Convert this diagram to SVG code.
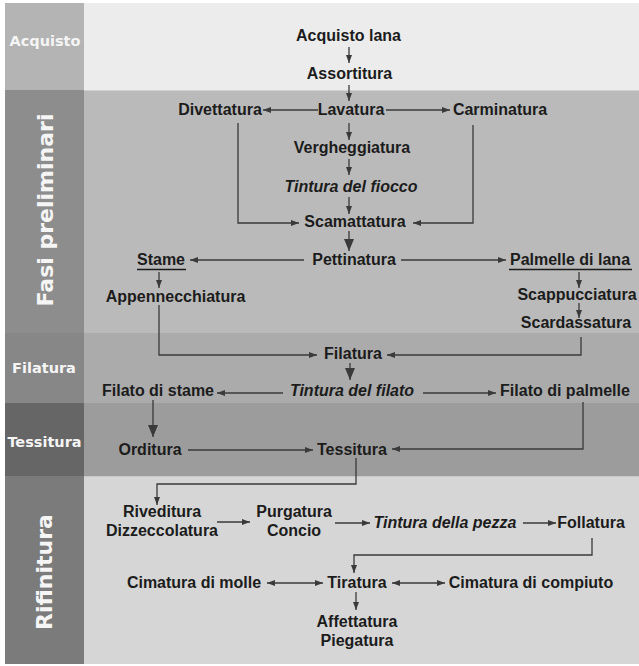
<svg xmlns="http://www.w3.org/2000/svg" width="639" height="666" viewBox="0 0 639 666">
<style>
.t{font-family:"Liberation Sans",Arial,sans-serif;font-size:16px;font-weight:bold;fill:#1c1c1c;text-anchor:middle}
.i{font-style:italic}
.lb{font-family:"DejaVu Sans",sans-serif;font-weight:bold;fill:#f5f5f5;text-anchor:middle}
.c{fill:none;stroke:#3a3a3a;stroke-width:1.3}
.u{stroke:#1c1c1c;stroke-width:1.6}
</style>
<defs>
<marker id="a" markerWidth="8" markerHeight="6" refX="8" refY="3" orient="auto-start-reverse" markerUnits="userSpaceOnUse"><path d="M0,0L8,3L0,6z" fill="#3a3a3a"/></marker>
<marker id="b" markerWidth="12" markerHeight="10" refX="12" refY="5" orient="auto" markerUnits="userSpaceOnUse"><path d="M0,0L12,5L0,10z" fill="#3a3a3a"/></marker>
</defs>
<rect width="639" height="666" fill="#ffffff"/>
<g id="bands">
<rect x="5" y="3" width="79" height="87" fill="#b4b4b4"/>
<rect x="84" y="3" width="555" height="87" fill="#ececec"/>
<rect x="5" y="90" width="79" height="243" fill="#8d8d8d"/>
<rect x="84" y="90" width="555" height="243" fill="#bababa"/>
<rect x="5" y="333" width="79" height="70" fill="#878787"/>
<rect x="84" y="333" width="555" height="70" fill="#ababab"/>
<rect x="5" y="403" width="79" height="73" fill="#666666"/>
<rect x="84" y="403" width="555" height="73" fill="#9c9c9c"/>
<rect x="5" y="476" width="79" height="188" fill="#7b7b7b"/>
<rect x="84" y="476" width="555" height="188" fill="#d6d6d6"/>
<line x1="84" y1="90.5" x2="639" y2="90.5" stroke="#d2d2d2" stroke-width="1"/>
<line x1="84" y1="476.5" x2="639" y2="476.5" stroke="#c8c8c8" stroke-width="1"/>
</g>
<g id="labels">
<text class="lb" x="45" y="46" font-size="14.5">Acquisto</text>
<text class="lb" font-size="22" transform="translate(53,210) rotate(-90)">Fasi preliminari</text>
<text class="lb" x="44" y="373" font-size="14.5">Filatura</text>
<text class="lb" x="44.5" y="447" font-size="14.5">Tessitura</text>
<text class="lb" font-size="22" transform="translate(52,572) rotate(-90)">Rifinitura</text>
</g>
<g id="connectors">
<line class="c" x1="349" y1="47" x2="349" y2="63" marker-end="url(#a)"/>
<line class="c" x1="349" y1="85" x2="349" y2="101" marker-end="url(#a)"/>
<line class="c" x1="318" y1="110" x2="263" y2="110" marker-end="url(#a)"/>
<line class="c" x1="386" y1="110" x2="450" y2="110" marker-end="url(#a)"/>
<line class="c" x1="349" y1="123" x2="349" y2="140" marker-end="url(#a)"/>
<line class="c" x1="349" y1="159" x2="349" y2="175" marker-end="url(#a)"/>
<line class="c" x1="349" y1="197" x2="349" y2="214" marker-end="url(#a)"/>
<polyline class="c" points="238,123 238,223 299,223" marker-end="url(#a)"/>
<polyline class="c" points="473,125 473,223 413,223" marker-end="url(#a)"/>
<line class="c" x1="349" y1="231" x2="349" y2="251" marker-end="url(#b)"/>
<line class="c" x1="304" y1="260" x2="190" y2="260" marker-end="url(#a)"/>
<line class="c" x1="401" y1="260" x2="506" y2="260" marker-end="url(#a)"/>
<line class="c" x1="159" y1="272" x2="159" y2="288" marker-end="url(#a)"/>
<line class="c" x1="579" y1="272" x2="579" y2="288" marker-end="url(#a)"/>
<line class="c" x1="579" y1="303" x2="579" y2="318" marker-end="url(#a)"/>
<polyline class="c" points="159,305 159,355 317,355" marker-end="url(#a)"/>
<polyline class="c" points="581,337 581,355 387,355" marker-end="url(#a)"/>
<line class="c" x1="350" y1="363" x2="350" y2="380" marker-end="url(#b)"/>
<line class="c" x1="283" y1="393" x2="217" y2="393" marker-end="url(#a)"/>
<line class="c" x1="423" y1="393" x2="496" y2="393" marker-end="url(#a)"/>
<line class="c" x1="153" y1="400" x2="153" y2="437" marker-end="url(#b)"/>
<line class="c" x1="188" y1="450" x2="313" y2="450" marker-end="url(#a)"/>
<polyline class="c" points="583,402 583,449 392,449" marker-end="url(#a)"/>
<polyline class="c" points="356,458 356,484 157,484 157,505" marker-end="url(#a)"/>
<line class="c" x1="217" y1="522" x2="250" y2="522" marker-end="url(#a)"/>
<line class="c" x1="335" y1="523" x2="370" y2="523" marker-end="url(#a)"/>
<line class="c" x1="523" y1="523" x2="556" y2="523" marker-end="url(#a)"/>
<polyline class="c" points="592,538 592,555 354,555 354,573" marker-end="url(#a)"/>
<line class="c" x1="267" y1="583" x2="323" y2="583" marker-start="url(#a)" marker-end="url(#a)"/>
<line class="c" x1="392" y1="583" x2="445" y2="583" marker-start="url(#a)" marker-end="url(#a)"/>
<line class="c" x1="356" y1="592" x2="356" y2="610" marker-end="url(#a)"/>
</g>
<g id="n-acquisto"><text class="t" x="348.5" y="41">Acquisto lana</text></g>
<g id="n-assortitura"><text class="t" x="349.5" y="79">Assortitura</text></g>
<g id="n-lavatura"><text class="t" x="351" y="115">Lavatura</text></g>
<g id="n-divettatura"><text class="t" x="220" y="115">Divettatura</text></g>
<g id="n-carminatura"><text class="t" x="500" y="115">Carminatura</text></g>
<g id="n-vergheggiatura"><text class="t" x="352" y="153">Vergheggiatura</text></g>
<g id="n-tintura-fiocco"><text class="t i" x="351" y="192">Tintura del fiocco</text></g>
<g id="n-scamattatura"><text class="t" x="355" y="227">Scamattatura</text></g>
<g id="n-pettinatura"><text class="t" x="354" y="265">Pettinatura</text></g>
<g id="n-stame"><text class="t" x="161" y="265">Stame</text><line class="u" x1="137" y1="269.5" x2="186" y2="269.5"/></g>
<g id="n-palmelle"><text class="t" x="570" y="265">Palmelle di lana</text><line class="u" x1="509" y1="269.5" x2="632" y2="269.5"/></g>
<g id="n-appennecchiatura"><text class="t" x="175.5" y="302">Appennecchiatura</text></g>
<g id="n-scappucciatura"><text class="t" x="577" y="300">Scappucciatura</text></g>
<g id="n-scardassatura"><text class="t" x="576" y="328">Scardassatura</text></g>
<g id="n-filatura"><text class="t" x="353" y="359">Filatura</text></g>
<g id="n-tintura-filato"><text class="t i" x="352" y="396">Tintura del filato</text></g>
<g id="n-filato-stame"><text class="t" x="158" y="396">Filato di stame</text></g>
<g id="n-filato-palmelle"><text class="t" x="565" y="396">Filato di palmelle</text></g>
<g id="n-orditura"><text class="t" x="150" y="455">Orditura</text></g>
<g id="n-tessitura"><text class="t" x="352" y="455">Tessitura</text></g>
<g id="n-riveditura"><text class="t" x="162" y="517">Riveditura</text><text class="t" x="162" y="536">Dizzeccolatura</text></g>
<g id="n-purgatura"><text class="t" x="294" y="517">Purgatura</text><text class="t" x="294" y="536">Concio</text></g>
<g id="n-tintura-pezza"><text class="t i" x="445" y="528">Tintura della pezza</text></g>
<g id="n-follatura"><text class="t" x="591" y="528">Follatura</text></g>
<g id="n-cimatura-molle"><text class="t" x="194" y="588">Cimatura di molle</text></g>
<g id="n-tiratura"><text class="t" x="357" y="588">Tiratura</text></g>
<g id="n-cimatura-compiuto"><text class="t" x="531" y="588">Cimatura di compiuto</text></g>
<g id="n-affettatura"><text class="t" x="357" y="627">Affettatura</text><text class="t" x="357" y="646">Piegatura</text></g>
</svg>
